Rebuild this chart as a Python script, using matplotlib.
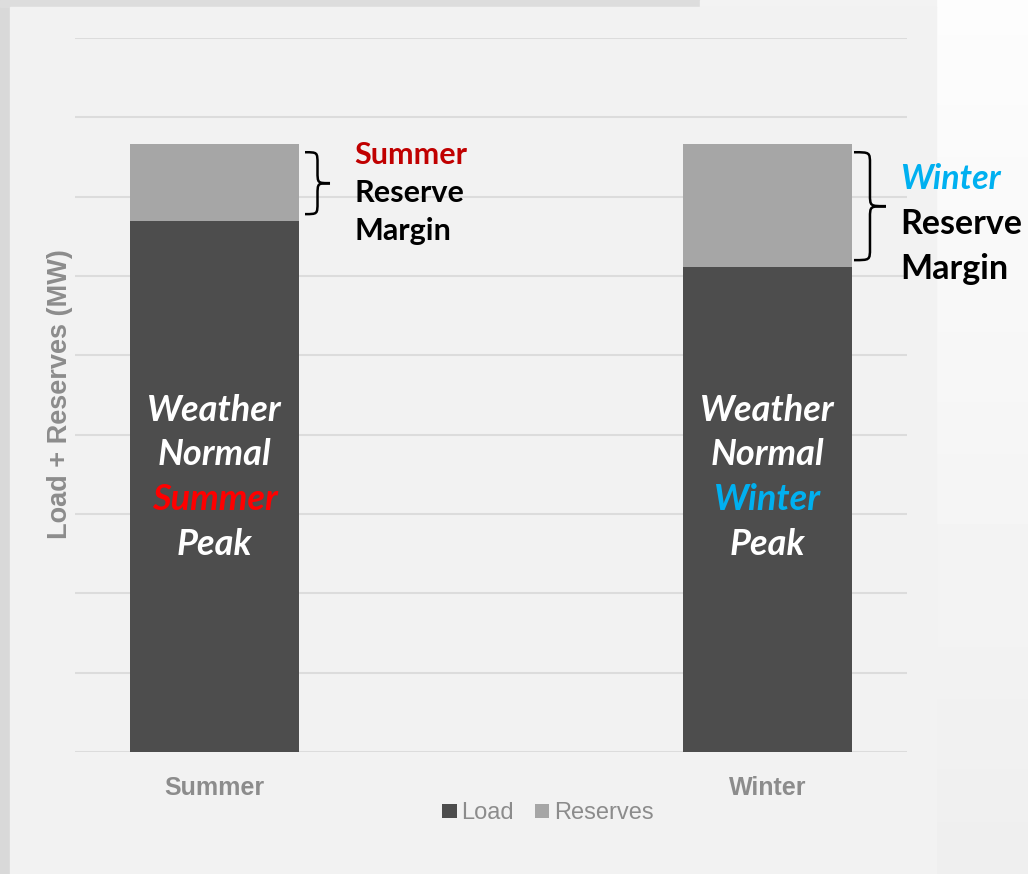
"""
Load + reserves by season: stacked bars with reserve-margin braces
"""
import numpy as np
import matplotlib.pyplot as plt
from matplotlib.path import Path
from matplotlib.patches import PathPatch, Rectangle

# data (grid units)
seasons = ['Summer', 'Winter']
load = [6.69, 6.11]
reserves = [0.97, 1.55]
peak_colors = ['#ff0000', '#00b0f0']
margin_colors = ['#c00000', '#00b0f0']

LOAD_C = '#4d4d4d'
RES_C = '#a6a6a6'
GRAY_TXT = '#8c8c8c'
W = 1028
H = 874
PT = 0.72  # px -> pt at dpi 100

fig = plt.figure(figsize=(W / 100, H / 100), dpi=100, facecolor='#f2f2f2')

# background: grey strips, light panel, pale area on the right
bg = fig.add_axes([0, 0, 1, 1], zorder=-10)
bg.axis('off')
grad = np.linspace(0.99, 0.935, 50).reshape(-1, 1)
bg.imshow(np.repeat(grad, 2, axis=1), cmap='gray', vmin=0, vmax=1,
          extent=[936 / W, 1, 0, 1], aspect='auto')
bg.add_patch(Rectangle((0, 0), 10 / W, 1, color='#d9d9d9'))
bg.add_patch(Rectangle((0, 1 - 7 / H), 700 / W, 7 / H, color='#dddddd'))
bg.add_patch(Rectangle((700 / W, 1 - 7 / H), 236 / W, 7 / H, color='#f3f3f3'))
bg.add_patch(Rectangle((10 / W, 0), 926 / W, 1 - 7 / H, color='#f2f2f2'))
bg.set_xlim(0, 1)
bg.set_ylim(0, 1)

ax = fig.add_axes([75 / W, 1 - 752 / H, 832 / W, 714 / H])
ax.set_facecolor('none')

x = np.arange(len(seasons))
bw = 0.3056
ax.bar(x, load, bw, color=LOAD_C, label='Load', zorder=3)
ax.bar(x, reserves, bw, bottom=load, color=RES_C, label='Reserves', zorder=3)

ax.set_xlim(-0.2523, 1.2523)
ax.set_ylim(0, 9)
ax.set_yticks(range(10))
ax.set_yticklabels([])
ax.grid(axis='y', color='#dcdcdc', linewidth=1.5, zorder=0)
ax.tick_params(length=0, pad=17)
for s in ax.spines.values():
    s.set_visible(False)
ax.set_xticks(x)
ax.set_xticklabels(seasons, fontsize=18, fontweight='bold', color=GRAY_TXT,
                   family='Liberation Sans')

fig.text(60 / W, 1 - 394.5 / H, 'Load + Reserves (MW)', rotation=90,
         ha='center', va='center', fontsize=19.5, fontweight='bold',
         color=GRAY_TXT, family='Liberation Sans')


def brace(ax, x0, y0, y1, w, r, lw=2):
    xm = x0 + w / 2
    ym = (y0 + y1) / 2
    verts = [(x0, y1), (xm, y1), (xm, y1), (xm, y1 - r),
             (xm, ym + r),
             (xm, ym), (xm, ym), (x0 + w, ym),
             (xm, ym), (xm, ym), (xm, ym - r),
             (xm, y0 + r),
             (xm, y0), (xm, y0), (x0, y0)]
    C = Path.CURVE4
    codes = [Path.MOVETO, C, C, C, Path.LINETO, C, C, C, C, C, C,
             Path.LINETO, C, C, C]
    ax.add_patch(PathPatch(Path(verts, codes), fill=False, lw=lw,
                           ec='black', clip_on=False, zorder=4))


font = 'Lato'
brace_gap = [6 / 553, 2 / 553]
brace_w = [25 / 553, 32 / 553]
text_dx = [55, 48]          # px right of bar edge
line_sp = [38, 45]          # px
first_dy = [-28, -27]       # px from segment middle
ann_size = [22, 24.5]

for i in range(len(seasons)):
    top = load[i] + reserves[i]
    right = x[i] + bw / 2
    brace(ax, right + brace_gap[i], load[i] + 0.09, top - 0.1,
          brace_w[i], 0.15, lw=1.8)

    mid = load[i] + reserves[i] / 2
    lines = [(seasons[i], margin_colors[i], 'italic' if i == 1 else 'normal'),
             ('Reserve', 'black', 'normal'),
             ('Margin', 'black', 'normal')]
    for k, (txt, col, sty) in enumerate(lines):
        dy = first_dy[i] + k * line_sp[i]
        ax.annotate(txt, xy=(right, mid),
                    xytext=(text_dx[i] * PT, -dy * PT),
                    textcoords='offset points', ha='left', va='center',
                    fontsize=ann_size[i], fontweight='bold', style=sty,
                    color=col, family=font, annotation_clip=False)

    # label inside the load bar
    inner = [('Weather', 'white'), ('Normal', 'white'),
             (seasons[i], peak_colors[i]), ('Peak', 'white')]
    for k, (txt, col) in enumerate(inner):
        up = 342 - k * 44.7
        ax.annotate(txt, xy=(x[i], 0), xytext=(0, up * PT),
                    textcoords='offset points', ha='center', va='center',
                    fontsize=26, fontweight='bold', style='italic',
                    color=col, family=font, zorder=5)

fig.legend(loc='center', bbox_to_anchor=(548 / W, 1 - 813 / H), ncol=2,
           frameon=False, labelcolor=GRAY_TXT,
           handlelength=0.6, handleheight=0.55, handletextpad=0.2,
           columnspacing=0.9, prop={'family': 'Liberation Sans', 'size': 17})

fig.savefig('out.png', dpi=100, facecolor=fig.get_facecolor())
